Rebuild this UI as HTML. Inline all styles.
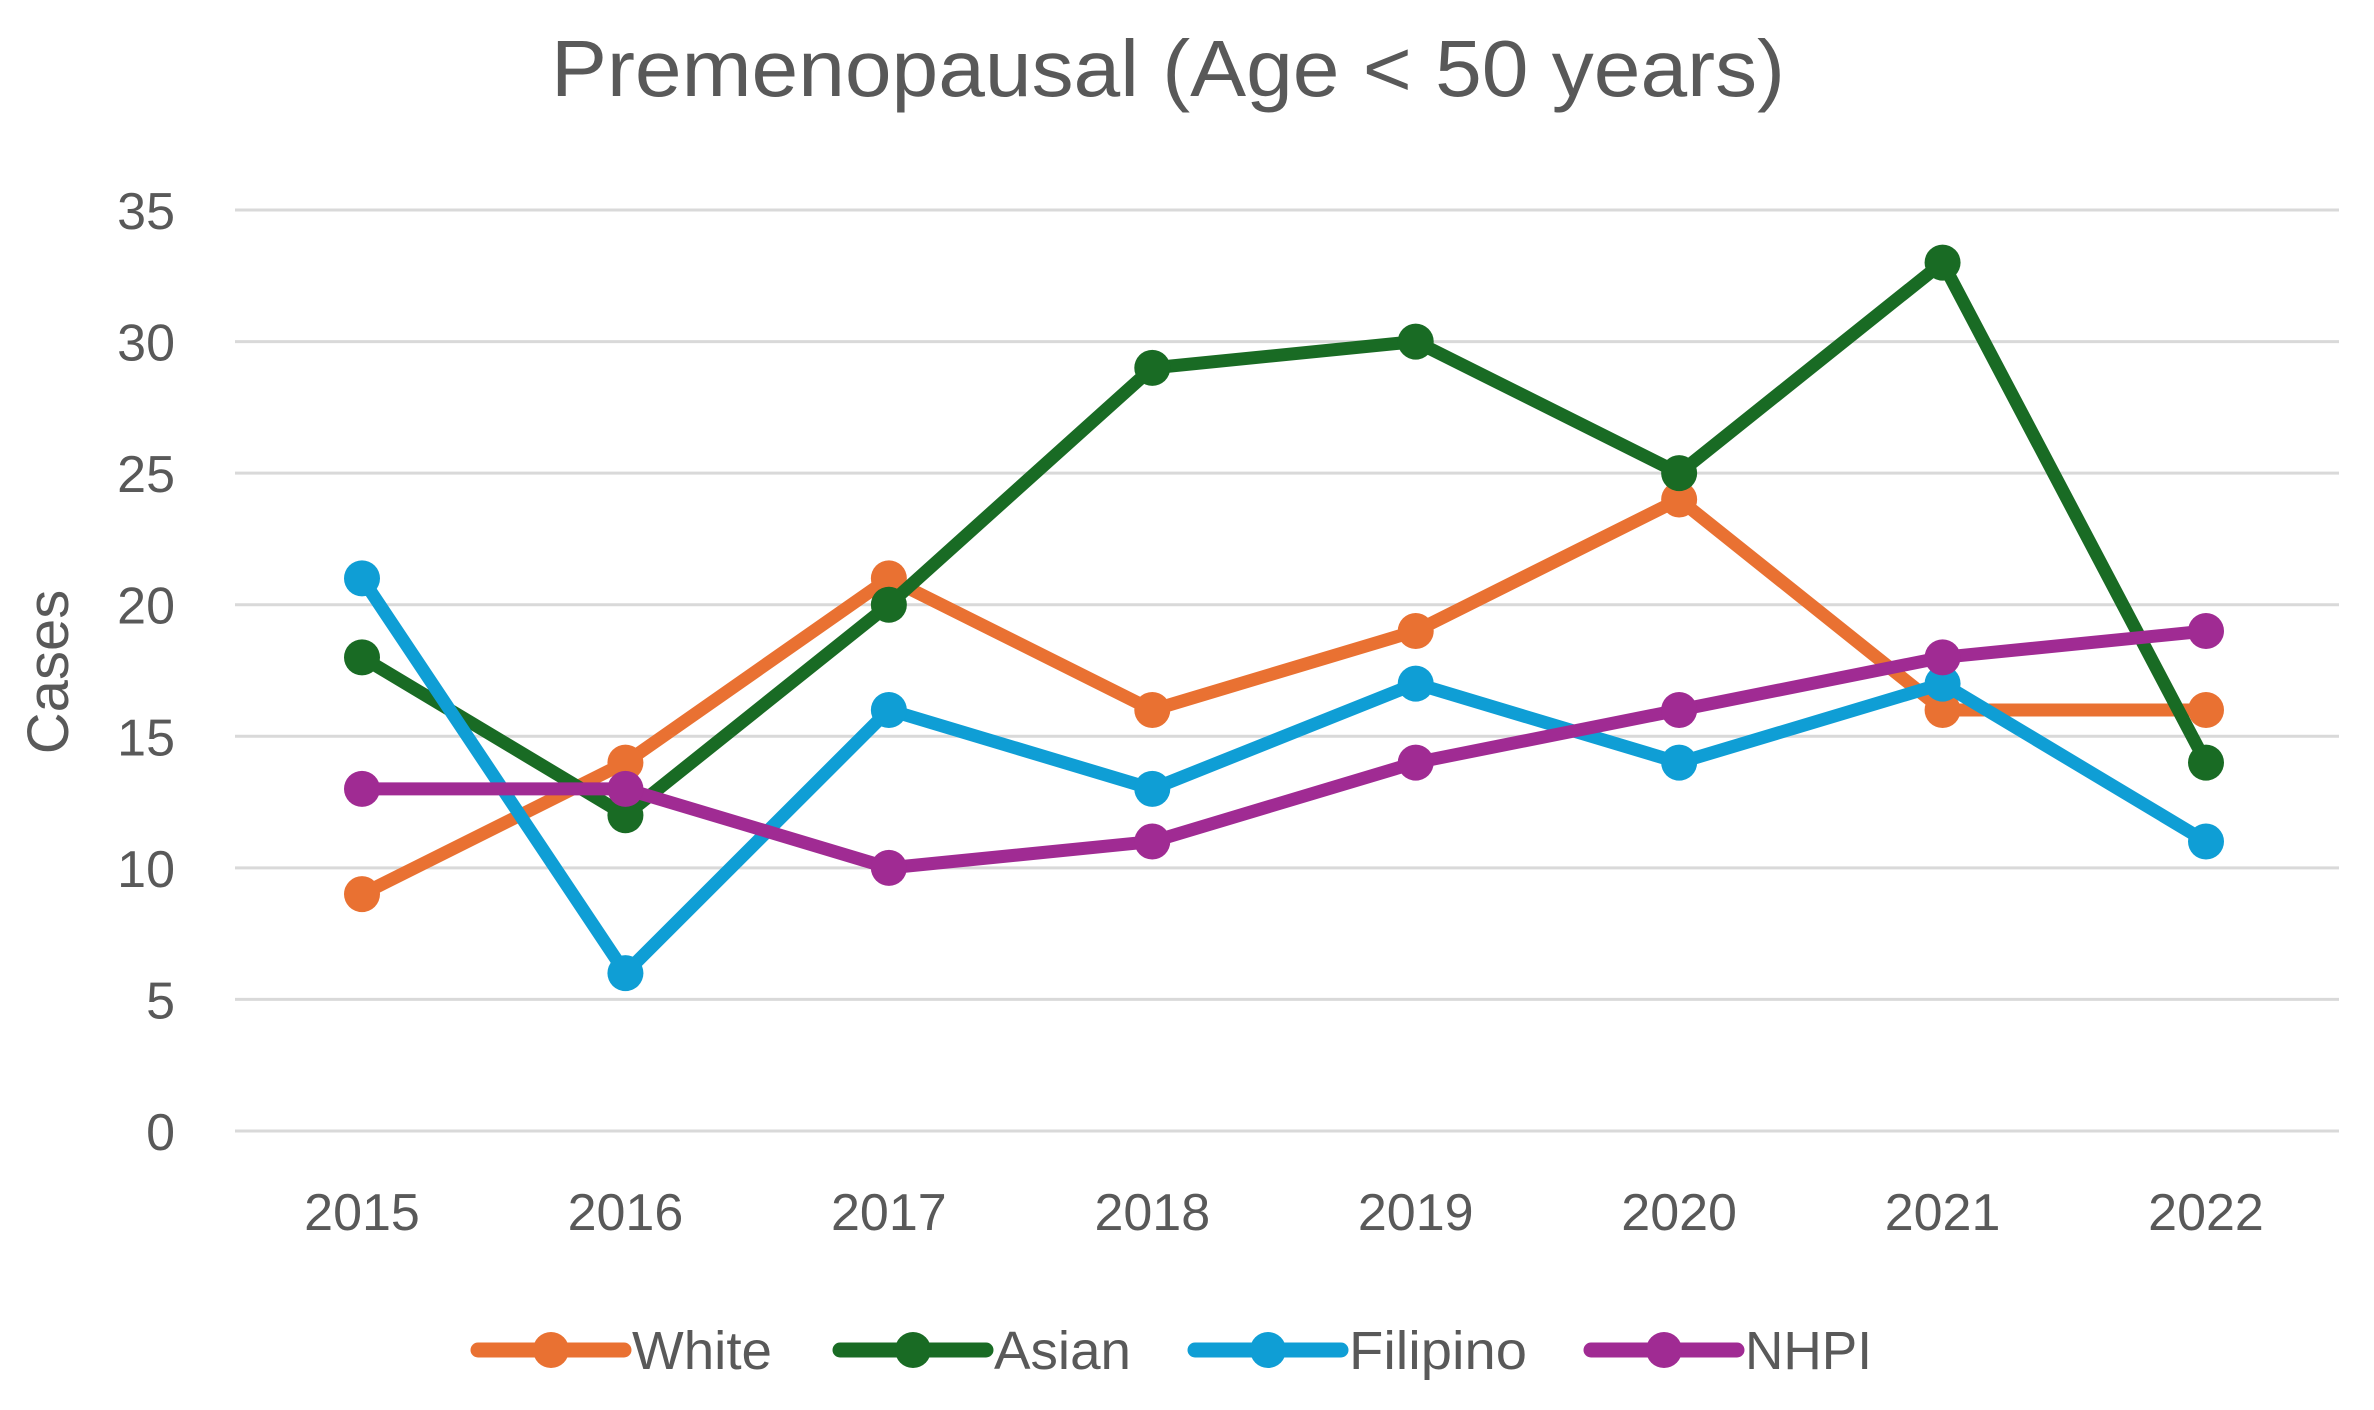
<!DOCTYPE html>
<html><head><meta charset="utf-8"><style>
html,body{margin:0;padding:0;background:#fff;}
svg{display:block;font-family:"Liberation Sans",sans-serif;}
</style></head><body>
<svg id="chart" width="2374" height="1410" viewBox="0 0 2374 1410" xmlns="http://www.w3.org/2000/svg">
<rect width="2374" height="1410" fill="#fff"/>
<text x="1168" y="96" font-size="80" fill="#595959" text-anchor="middle" textLength="1234" lengthAdjust="spacingAndGlyphs">Premenopausal (Age &lt; 50 years)</text>
<text transform="translate(68,672) rotate(-90)" font-size="58" fill="#595959" text-anchor="middle">Cases</text>
<g id="grid"></g><g id="yticks"></g><g id="xticks"></g><g id="series"></g><g id="legend"></g>
</svg>
<script>
const years = ["2015","2016","2017","2018","2019","2020","2021","2022"];
const yTicks = [0,5,10,15,20,25,30,35];
const white = [9,14,21,16,19,24,16,16];
const asian = [18,12,20,29,30,25,33,14];
const filipino = [21,6,16,13,17,14,17,11];
const nhpi = [13,13,10,11,14,16,18,19];
const seriesNames = ["White","Asian","Filipino","NHPI"];
const seriesColors = ["#E97132","#196B24","#0F9ED5","#A02B93"];
const NS="http://www.w3.org/2000/svg";
const x0=235,x1=2339,y0=1131,yTop=210;
function xs(i){return 362+i*(2206-362)/(years.length-1);}
function ys(v){return y0-(v/35)*(y0-yTop);}
function mk(tag,attrs,parent){const e=document.createElementNS(NS,tag);for(const k in attrs)e.setAttribute(k,attrs[k]);parent.appendChild(e);return e;}
const grid=document.getElementById('grid'),yt=document.getElementById('yticks'),xt=document.getElementById('xticks'),sg=document.getElementById('series'),lg=document.getElementById('legend');
yTicks.forEach(t=>{
  const l=mk('line',{x1:x0,x2:x1,y1:ys(t),y2:ys(t),stroke:'#d9d9d9','stroke-width':3},grid);
  
  
  const tx=mk('text',{x:175,y:ys(t)+19,'font-size':52,fill:'#595959','text-anchor':'end'},yt);
  tx.textContent=t;
  
  
});
years.forEach((yr,i)=>{
  const tx=mk('text',{x:xs(i),y:1230,'font-size':52,fill:'#595959','text-anchor':'middle'},xt);
  tx.textContent=yr;
  
  
});
const allData=[white,asian,filipino,nhpi];
allData.forEach((d,s)=>{
  const g=mk('g',{},sg);
  
  
  const pts=d.map((v,i)=>xs(i)+','+ys(v)).join(' ');
  const pl=mk('polyline',{points:pts,fill:'none',stroke:seriesColors[s],'stroke-width':13,'stroke-linejoin':'round','stroke-linecap':'round'},g);
  
  
  d.forEach((v,i)=>{
    const c=mk('circle',{cx:xs(i),cy:ys(v),r:18,fill:seriesColors[s]},g);
    
    
  });
});
const legX=[551,913,1268,1664];
const legW=[140,137,178,127];
seriesNames.forEach((n,s)=>{
  const g=mk('g',{},lg);
  
  
  mk('line',{x1:legX[s]-73,x2:legX[s]+73,y1:1350,y2:1350,stroke:seriesColors[s],'stroke-width':15,'stroke-linecap':'round'},g);
  mk('circle',{cx:legX[s],cy:1350,r:18,fill:seriesColors[s]},g);
  const t=mk('text',{x:legX[s]+81,y:1369,'font-size':54,fill:'#595959',textLength:legW[s],lengthAdjust:'spacingAndGlyphs'},g);
  t.textContent=n;
});
</script>
</body></html>
